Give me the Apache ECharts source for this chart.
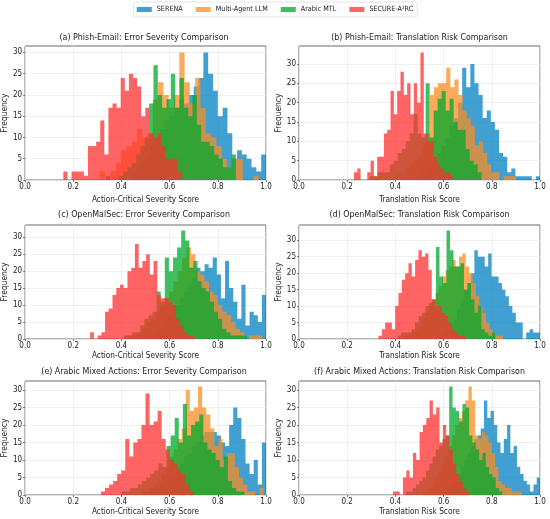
<!DOCTYPE html>
<html><head><meta charset="utf-8">
<script src="https://cdn.jsdelivr.net/npm/echarts@6/dist/echarts.min.js"></script>
<style>html,body{margin:0;padding:0;background:#fff}#c{width:550px;height:519px}</style>
</head><body><div id="c"></div>
<script>
const seriesNames = ['SERENA', 'Multi-Agent LLM', 'Arabic MTL', 'SECURE-A²RC'];
const panelTitles = [
  '(a) Phish-Email: Error Severity Comparison',
  '(b) Phish-Email: Translation Risk Comparison',
  '(c) OpenMalSec: Error Severity Comparison',
  '(d) OpenMalSec: Translation Risk Comparison',
  '(e) Arabic Mixed Actions: Error Severity Comparison',
  '(f) Arabic Mixed Actions: Translation Risk Comparison'
];
const xAxisNames = ['Action-Critical Severity Score', 'Translation Risk Score'];
const yAxisName = 'Frequency';
const xTicks = [0.0, 0.2, 0.4, 0.6, 0.8, 1.0];
const yTicks = [0, 5, 10, 15, 20, 25, 30];

// Histogram bins: first bin edge, bin width, counts (order: SERENA, Multi-Agent LLM, Arabic MTL, SECURE-A²RC)
// (a) Phish-Email, error severity
const aStarts = [0.40, 0.31, 0.335, 0.159];
const aWidths = [0.02, 0.022, 0.018, 0.017];
const aSERENA = [1,0,2,3,4,6,8,10,12,14,15,17,19,18,20,22,24,30,25,21,15,17,11,5,7,6,5,3,2,6];
const aMulti  = [2,0,2,4,7,8,9,12,10,11,19,23,20,17,20,30,23,18,24,17,11,10,8,5,3,5,5,0,0,1];
const aArabic = [1,0,0,1,2,3,4,6,8,10,18,27,20,17,19,25,17,24,17,15,20,13,9,9,8,6,5,3,3,6];
const aSecure = [2,0,2,2,2,1,8,8,9,14,6,17,18,17,24,21,25,24,22,15,17,11,10,11,8,5,5,5,2,0];
// (b) Phish-Email, translation risk
const bStarts = [0.49, 0.39, 0.26, 0.228];
const bWidths = [0.017, 0.017, 0.0166, 0.0138];
const bSERENA = [1,2,3,4,6,7,9,11,14,16,20,29,24,30,25,22,16,18,15,13,7,6,2,3,1,1,1,1,0,1];
const bMulti  = [1,2,2,3,4,5,6,9,12,22,24,25,25,29,24,26,22,18,16,14,9,10,7,4,2,2,0,1,1,1];
const bArabic = [0,0,1,1,2,2,2,4,5,7,8,10,12,17,12,11,25,11,18,21,23,18,21,15,13,13,8,5,4,2];
const bSecure = [2,3,0,0,2,5,1,6,6,12,13,23,17,23,28,22,25,17,25,20,33,12,10,10,6,4,3,2,2,1];
// (c) OpenMalSec, error severity
const cStarts = [0.49, 0.43, 0.41, 0.27];
const cWidths = [0.017, 0.0185, 0.017, 0.0155];
const cSERENA = [1,1,2,3,4,6,7,9,10,12,14,16,18,21,20,22,21,24,19,12,23,15,11,6,16,4,8,7,5,13];
const cMulti  = [1,1,2,3,5,6,8,10,12,14,17,20,24,27,25,20,19,17,14,13,10,8,7,5,3,2,0,1,1,1];
const cArabic = [1,1,2,2,4,6,7,8,14,11,24,20,24,27,32,29,21,23,17,15,14,11,8,6,3,2,1,1,1,1];
const cSecure = [2,0,1,2,8,9,13,15,16,15,20,21,28,21,23,25,19,23,13,12,12,11,10,6,4,2,1,1];
// (d) OpenMalSec, translation risk
const dStarts = [0.57, 0.44, 0.38, 0.33];
const dWidths = [0.01433, 0.014, 0.0145, 0.0138];
const dSERENA = [1,1,2,3,5,6,9,12,15,17,20,27,25,25,22,26,19,19,17,15,13,10,8,5,5,0,2,3,2,2];
const dMulti  = [1,1,2,3,4,6,8,10,12,14,16,19,21,22,24,22,25,26,22,20,17,13,10,8,5,3,2,1,1,0];
const dArabic = [0,0,1,2,2,2,3,5,7,8,10,11,12,28,19,17,33,27,22,22,23,15,17,12,8,10,3,2,1,2];
const dSecure = [1,3,5,5,3,10,14,18,20,23,19,24,27,25,26,21,12,10,10,8,7,5,3,2,1,1];
// (e) Arabic Mixed Actions, error severity
const eStarts = [0.49, 0.48, 0.40, 0.315];
const eWidths = [0.017, 0.017, 0.017, 0.0168];
const eSERENA = [1,1,2,2,3,4,5,6,8,9,11,12,14,15,17,18,18,18,17,15,14,20,25,22,16,9,6,10,3,15];
const eMulti  = [1,1,2,3,4,6,8,11,13,16,19,30,24,25,31,25,23,19,14,16,10,12,12,8,5,3,1,1,0,2];
const eArabic = [1,1,2,2,3,4,5,6,7,9,8,14,17,22,15,26,17,20,21,23,15,13,12,10,8,11,4,2,1,1];
const eSecure = [1,2,3,4,6,7,16,11,15,16,20,29,20,21,24,16,13,10,9,7,6,3,1];
// (f) Arabic Mixed Actions, translation risk
const fStarts = [0.59, 0.51, 0.43, 0.39];
const fWidths = [0.01367, 0.0138, 0.0138, 0.0138];
const fSERENA = [1,1,2,3,4,6,8,10,12,14,16,17,19,27,22,24,20,15,12,16,20,12,14,8,6,4,3,1,3,5];
const fMulti  = [1,1,2,3,5,7,9,11,14,17,20,22,24,27,31,27,17,16,18,17,15,12,8,4,3,2,2,1,1,1];
const fArabic = [0,1,1,2,3,4,5,7,9,11,13,14,16,17,31,25,24,21,26,25,17,15,13,10,12,8,6,5,2,1];
const fSecure = [1,1,0,5,7,5,12,10,18,20,22,27,23,25,15,20,17,13,9,6,4,2,1];

const panels = [
  {starts: aStarts, widths: aWidths, counts: [aSERENA, aMulti, aArabic, aSecure]},
  {starts: bStarts, widths: bWidths, counts: [bSERENA, bMulti, bArabic, bSecure]},
  {starts: cStarts, widths: cWidths, counts: [cSERENA, cMulti, cArabic, cSecure]},
  {starts: dStarts, widths: dWidths, counts: [dSERENA, dMulti, dArabic, dSecure]},
  {starts: eStarts, widths: eWidths, counts: [eSERENA, eMulti, eArabic, eSecure]},
  {starts: fStarts, widths: fWidths, counts: [fSERENA, fMulti, fArabic, fSecure]}
];

const colors = ['#0080c3', '#f88e23', '#00a82d', '#ff3030'];
const OPA = 0.75;
const FONT = '"DejaVu Sans Condensed", "DejaVu Sans", sans-serif';
const TXT = '#222';
const grids = [
  {left: 22, top: 46, width: 244, height: 134},
  {left: 299, top: 46, width: 241, height: 134},
  {left: 22, top: 225, width: 244, height: 114},
  {left: 299, top: 225, width: 241, height: 114},
  {left: 22, top: 381, width: 244, height: 114},
  {left: 299, top: 381, width: 241, height: 114}
];
const titleY = [38, 215, 371.5];
const xNameGap = [16, 13, 13];

const chart = echarts.init(document.getElementById('c'), null, {renderer: 'canvas'});
const xAxes = [], yAxes = [], series = [], graphics = [];
panels.forEach((p, i) => {
  const row = Math.floor(i / 2);
  const ymax = Math.max(...p.counts.map(c => Math.max(...c))) * 1.05;
  xAxes.push({
    type: 'value', gridIndex: i, min: xTicks[0], max: xTicks[xTicks.length - 1], interval: 0.2,
    name: xAxisNames[i % 2], nameLocation: 'middle', nameGap: xNameGap[row],
    nameTextStyle: {fontSize: 8.2, fontFamily: FONT, color: TXT},
    axisLine: {show: false},
    axisTick: {show: true, length: 2, lineStyle: {color: '#555', width: 0.8}},
    axisLabel: {fontSize: 8, fontFamily: FONT, color: TXT, margin: 3, formatter: v => v.toFixed(1)},
    splitLine: {show: true, lineStyle: {color: '#ececec', width: 0.8}}
  });
  yAxes.push({
    type: 'value', gridIndex: i, min: 0, max: ymax, interval: 5,
    name: yAxisName, nameLocation: 'middle', nameGap: 9,
    nameTextStyle: {fontSize: 8.4, fontFamily: FONT, color: TXT},
    axisLine: {show: false},
    axisTick: {show: true, length: 2, lineStyle: {color: '#555', width: 0.8}, customValues: yTicks},
    axisLabel: {fontSize: 8, fontFamily: FONT, color: TXT, margin: 3,
      formatter: v => (yTicks.indexOf(v) >= 0 ? String(v) : '')},
    splitLine: {show: true, lineStyle: {color: '#ececec', width: 0.8}}
  });
  p.counts.forEach((cnt, s) => {
    const st = p.starts[s], w = p.widths[s];
    const pts = cnt.map((c, k) => [st + k * w, c]);
    pts.push([st + cnt.length * w, cnt[cnt.length - 1]]);
    series.push({
      type: 'line', name: seriesNames[s], xAxisIndex: i, yAxisIndex: i,
      data: pts, step: 'end', symbol: 'none', showSymbol: false, silent: true, clip: true,
      color: colors[s],
      lineStyle: {width: 0, opacity: 0},
      areaStyle: {color: colors[s], opacity: OPA, origin: 'start'},
      z: 2
    });
  });
  const g = grids[i];
  graphics.push({
    type: 'text', x: g.left + g.width / 2, y: titleY[row], silent: true,
    style: {text: panelTitles[i], fontSize: 8.8, fontFamily: FONT, fill: TXT,
      textAlign: 'center', textVerticalAlign: 'middle', align: 'center', verticalAlign: 'middle'}
  });
});

chart.setOption({
  animation: false,
  backgroundColor: '#fff',
  grid: grids.map(g => Object.assign({show: true, borderColor: '#444', borderWidth: 0.8, backgroundColor: 'transparent'}, g)),
  xAxis: xAxes,
  yAxis: yAxes,
  series: series,
  graphic: graphics,
  legend: {
    data: seriesNames, top: 2, left: 'center', icon: 'rect', itemWidth: 15, itemHeight: 5, itemGap: 13,
    textStyle: {fontSize: 7.2, fontFamily: FONT, color: TXT},
    itemStyle: {opacity: OPA},
    borderColor: '#ddd', borderWidth: 0.8, borderRadius: 2, padding: [4, 4, 4, 3],
    selectedMode: false
  }
});
</script></body></html>
